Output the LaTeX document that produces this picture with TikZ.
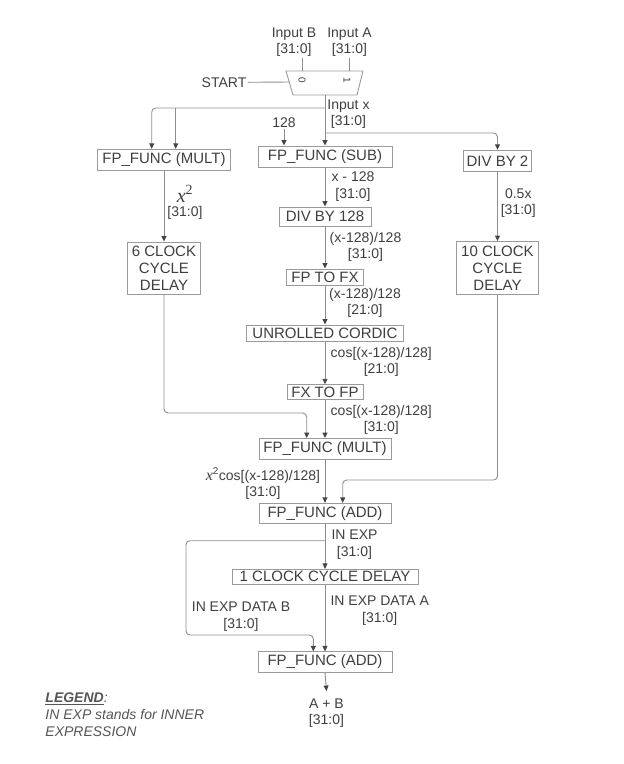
\documentclass[tikz,border=0pt]{standalone}
\usepackage{fontspec}
\setmainfont{Liberation Sans}
\newfontfamily\serfont{Liberation Serif}
\usetikzlibrary{arrows.meta, calc}
\definecolor{ctext}{HTML}{3F3F3F}
\definecolor{clegend}{HTML}{555555}
\definecolor{cline}{HTML}{8E8E8E}
\definecolor{cbox}{HTML}{9A9A9A}
\definecolor{ctip}{HTML}{454545}
\tikzset{
  every picture/.style={line width=0.9pt},
  box/.style={draw=cbox, fill=white, align=center, inner sep=0pt, text=ctext, font=\fontsize{15}{17.2}\selectfont},
  wire/.style={draw=cline, rounded corners=4pt},
  arrow/.style={wire, -{Triangle[length=5.5pt, width=5pt, color=ctip]}},
  sig/.style={align=center, inner sep=1pt, text=ctext, font=\fontsize{14}{16.5}\selectfont},
  pin/.style={inner sep=0pt, text=ctext, font=\fontsize{10}{10}\selectfont, rotate=-90},
}

\begin{document}
\begin{tikzpicture}[x=1pt, y=-1pt]
  \useasboundingbox (0,0) rectangle (624,764);
  % input multiplexer
  \draw[draw=cbox, fill=white] (286,71) -- (363,71) -- (357,95) -- (293,95) -- cycle;
  \node[pin] (mux0) at (302,80) {0};
  \node[pin] (mux1) at (347,80) {1};
  \coordinate (muxB) at (302,71);
  \coordinate (muxA) at (349,71);
  \coordinate (muxS) at (289,82);
  \coordinate (muxO) at (325,95);
  \node[sig] (inB) at (294,42) {Input B\\{}[31:0]};
  \node[sig] (inA) at (349.5,42) {Input A\\{}[31:0]};
  \node[sig] (start) at (224,82.3) {START};
  \draw[wire] (inB.south -| muxB) -- (muxB);
  \draw[wire] (inA.south -| muxA) -- (muxA);
  \draw[wire] (start.east) -- (muxS);
  \node[sig] (inx) at (348.5,114) {Input x\\{}[31:0]};
  \node[sig] (c128) at (284,122.7) {128};
  % blocks
  \node[box, minimum width=133pt, minimum height=21.5pt] (mult1) at (164,160) {FP\_FUNC (MULT)};
  \node[box, minimum width=134pt, minimum height=21pt] (sub) at (325,156.5) {FP\_FUNC (SUB)};
  \node[box, minimum width=68pt, minimum height=21.5pt] (div2) at (497.5,161) {DIV BY 2};
  \node[box, minimum width=92pt, minimum height=19pt] (div128) at (325,216.5) {DIV BY 128};
  \node[box, minimum width=77pt, minimum height=16pt] (fptofx) at (325,277) {FP TO FX};
  \node[box, minimum width=157pt, minimum height=16pt] (cordic) at (325,333) {UNROLLED CORDIC};
  \node[box, minimum width=76pt, minimum height=14.5pt] (fxtofp) at (325,392) {FX TO FP};
  \node[box, minimum width=132pt, minimum height=21pt] (mult2) at (325,449) {FP\_FUNC (MULT)};
  \node[box, minimum width=132pt, minimum height=20pt] (add1) at (325,513.3) {FP\_FUNC (ADD)};
  \node[box, minimum width=186pt, minimum height=14.7pt] (delay1) at (325,576.7) {1 CLOCK CYCLE DELAY};
  \node[box, minimum width=134pt, minimum height=20.3pt] (add2) at (325,662) {FP\_FUNC (ADD)};
  \node[box, minimum width=73pt, minimum height=52pt] (delay6) at (164,268) {6 CLOCK\\CYCLE\\DELAY};
  \node[box, minimum width=82pt, minimum height=53pt] (delay10) at (497.5,268) {10 CLOCK\\CYCLE\\DELAY};
  % bus labels
  \node[sig, font=\fontsize{14}{14.5}\selectfont] (xsq) at (185,202.5) {{\fontsize{20}{14.5}\selectfont\serfont\itshape x\upshape\textsuperscript{2}}\\{}[31:0]};
  \node[sig] (half) at (518.3,203) {0.5x\\{}[31:0]};
  \node[sig] (xm) at (353,186.5) {x - 128\\{}[31:0]};
  \node[sig] (sc1) at (365.5,247) {(x-128)/128\\{}[31:0]};
  \node[sig] (sc2) at (365,302.7) {(x-128)/128\\{}[21:0]};
  \node[sig] (cos1) at (381.3,362) {cos[(x-128)/128]\\{}[21:0]};
  \node[sig] (cos2) at (381.3,419.7) {cos[(x-128)/128]\\{}[31:0]};
  \node[sig] (prod) at (263,483.7) {{\fontsize{16}{13}\selectfont\serfont\itshape x}\textsuperscript{2}cos[(x-128)/128]\\{}[31:0]};
  \node[sig] (inexp) at (354.5,544.7) {IN EXP\\{}[31:0]};
  \node[sig] (dataA) at (379.7,610.7) {IN EXP DATA A\\{}[31:0]};
  \node[sig] (dataB) at (241,616.4) {IN EXP DATA B\\{}[31:0]};
  \node[sig] (sum) at (326.5,713) {A + B\\{}[31:0]};
  % input x fan-out
  \coordinate (splitl) at (325,108);
  \coordinate (splitr) at (325,133);
  \draw[arrow] (muxO) -- (sub.north);
  \draw[arrow] (splitl) -| ([xshift=-12.3pt]mult1.north);
  \draw[arrow] ([xshift=11.7pt]mult1.north |- splitl) -- ([xshift=11.7pt]mult1.north);
  \draw[arrow] (splitr) -| (div2.north);
  \draw[arrow] (c128.south) -- (c128.south |- sub.north);
  % main chain
  \foreach \a/\b in {sub/div128, div128/fptofx, fptofx/cordic, cordic/fxtofp, fxtofp/mult2, mult2/add1, add1/delay1, delay1/add2}
    \draw[arrow] (\a.south) -- (\b.north);
  \draw[arrow] (mult1.south) -- (delay6.north);
  \draw[arrow] (div2.south) -- (delay10.north);
  % side paths
  \coordinate (j6) at (306.7,413);
  \draw[arrow] (delay6.south) |- (j6) -- (j6 |- mult2.north);
  \coordinate (j10) at (342.7,480);
  \draw[arrow] (delay10.south) |- (j10) -- (j10 |- add1.north);
  \coordinate (jb) at (325,540.7);
  \coordinate (jl) at (186,635);
  \draw[arrow] (jb) -| (jl) -| ([xshift=-11.7pt]add2.north);
  \draw[arrow] (add2.south) -- ([yshift=6pt]sum.north);
  % legend
  \node[anchor=north west, align=left, inner sep=1pt, text=clegend, font=\fontsize{14}{17}\selectfont\itshape] (legend) at (44,691) {\textbf{\underline{LEGEND}}:\\IN EXP stands for INNER\\EXPRESSION};
\end{tikzpicture}
\end{document}
